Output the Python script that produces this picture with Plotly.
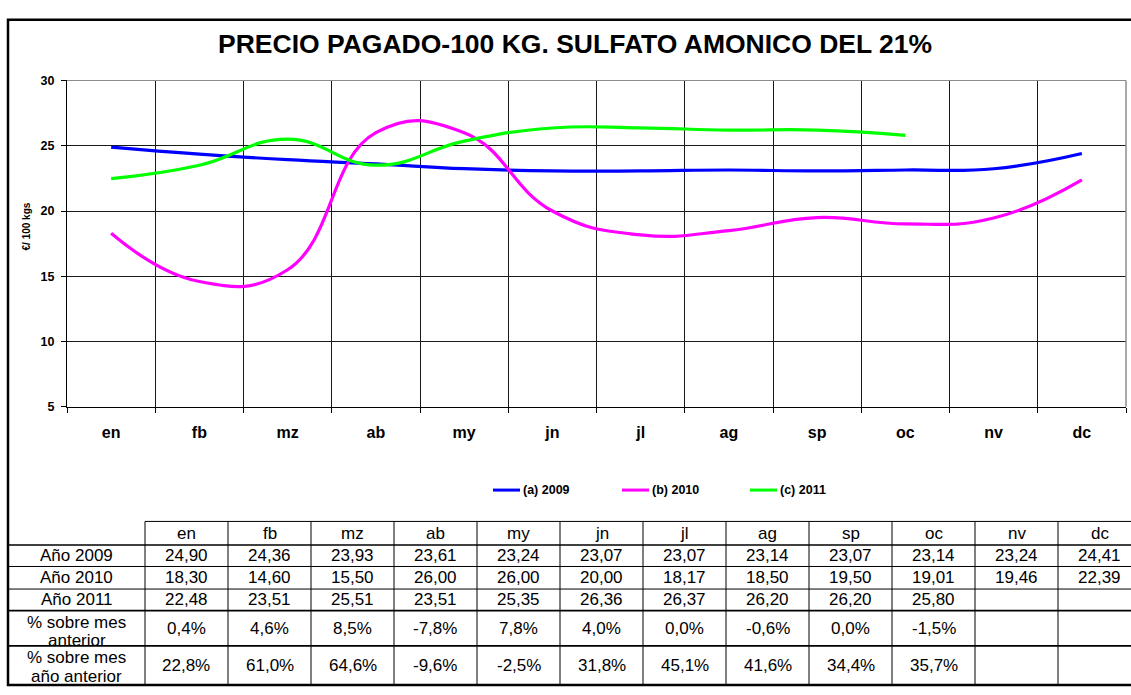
import plotly.graph_objects as go

# ---- data -------------------------------------------------------------
months = ["en", "fb", "mz", "ab", "my", "jn", "jl", "ag", "sp", "oc", "nv", "dc"]
price_2009 = [24.90, 24.36, 23.93, 23.61, 23.24, 23.07, 23.07, 23.14, 23.07, 23.14, 23.24, 24.41]
price_2010 = [18.30, 14.60, 15.50, 26.00, 26.00, 20.00, 18.17, 18.50, 19.50, 19.01, 19.46, 22.39]
price_2011 = [22.48, 23.51, 25.51, 23.51, 25.35, 26.36, 26.37, 26.20, 26.20, 25.80]
pct_prev_month = [0.4, 4.6, 8.5, -7.8, 7.8, 4.0, 0.0, -0.6, 0.0, -1.5]
pct_prev_year = [22.8, 61.0, 64.6, -9.6, -2.5, 31.8, 45.1, 41.6, 34.4, 35.7]

series = [
    ("(a) 2009", price_2009, "#0000FF"),
    ("(b) 2010", price_2010, "#FF00FF"),
    ("(c) 2011", price_2011, "#00FF00"),
]
y_ticks = [5, 10, 15, 20, 25, 30]

# ---- page geometry (pixels) ------------------------------------------
W, H = 1131, 695
FONT = "Liberation Sans, Arial, sans-serif"
PLOT_L, PLOT_R, PLOT_T, PLOT_B = 67, 1126, 75, 408


def px(x):
    return x / W


def py(y):
    return 1 - y / H


fig = go.Figure()

for name, vals, color in series:
    fig.add_trace(go.Scatter(
        x=months[:len(vals)], y=vals, name=name, mode="lines",
        line=dict(color=color, width=3.2, shape="spline", smoothing=1.3),
        showlegend=False, hoverinfo="x+y",
    ))

fig.update_layout(
    width=W, height=H, autosize=False,
    margin=dict(l=0, r=0, t=0, b=0),
    paper_bgcolor="white", plot_bgcolor="white",
    font=dict(family=FONT, color="black"),
    xaxis=dict(
        domain=[px(PLOT_L), px(PLOT_R)],
        type="category", categoryorder="array", categoryarray=months,
        range=[-0.5, 11.5], tickson="boundaries",
        showgrid=True, gridcolor="#1a1a1a", gridwidth=1,
        showline=True, linecolor="black", linewidth=1,
        ticks="outside", ticklen=5, tickcolor="black",
        tickfont=dict(family=FONT, size=16, color="black", weight="bold"),
        ticklabelstandoff=11, zeroline=False, fixedrange=True,
    ),
    yaxis=dict(
        domain=[py(PLOT_B), py(PLOT_T)],
        range=[5, 30], tickvals=y_ticks,
        showgrid=True, gridcolor="#1a1a1a", gridwidth=1,
        showline=True, linecolor="black", linewidth=1,
        ticks="outside", ticklen=5, tickcolor="black",
        tickfont=dict(family=FONT, size=12.5, color="black", weight="bold"),
        ticklabelstandoff=4, zeroline=False, fixedrange=True,
    ),
)

shapes = []
annotations = []

# plot area top and right edges in grey
shapes.append(dict(type="line", xref="paper", yref="paper",
                   x0=px(PLOT_L), x1=px(PLOT_R), y0=py(PLOT_T), y1=py(PLOT_T),
                   line=dict(color="#8c8c8c", width=1.2), layer="above"))
shapes.append(dict(type="line", xref="paper", yref="paper",
                   x0=px(PLOT_R), x1=px(PLOT_R), y0=py(PLOT_T), y1=py(PLOT_B),
                   line=dict(color="#8c8c8c", width=1.5), layer="above"))

# outer frame
shapes.append(dict(type="rect", xref="paper", yref="paper",
                   x0=px(8), x1=px(1140), y0=py(692), y1=py(13),
                   line=dict(color="black", width=2.5), layer="above"))

# title
annotations.append(dict(
    text="PRECIO PAGADO-100 KG. SULFATO AMONICO DEL 21%",
    xref="paper", yref="paper", x=px(575), y=py(38),
    xanchor="center", yanchor="middle", showarrow=False,
    font=dict(family=FONT, size=26.5, color="black", weight="bold"),
))

# y-axis title
annotations.append(dict(
    text="€/ 100 kgs", textangle=-90,
    xref="paper", yref="paper", x=px(26), y=py(224),
    xanchor="center", yanchor="middle", showarrow=False,
    font=dict(family=FONT, size=10, color="black", weight="bold"),
))

# legend
legend_pos = [493, 622, 750]
for (name, vals, color), lx in zip(series, legend_pos):
    shapes.append(dict(type="line", xref="paper", yref="paper",
                       x0=px(lx), x1=px(lx + 27), y0=py(493), y1=py(493),
                       line=dict(color=color, width=3)))
    annotations.append(dict(
        text=name, xref="paper", yref="paper", x=px(lx + 28), y=py(493),
        xanchor="left", yanchor="middle", showarrow=False,
        font=dict(family=FONT, size=12.5, color="black", weight="bold"),
    ))

# ---- data table under the chart --------------------------------------
TAB_L, LAB_R, COL_W = 8, 145, 83
rows_y = [525, 549, 571, 594, 616, 652, 692]
col_x = [LAB_R + COL_W * i for i in range(13)]
TFONT = dict(family=FONT, size=17, color="black")


def fmt_num(v):
    return f"{v:.2f}".replace(".", ",")


def fmt_pct(v):
    return f"{v:.1f}%".replace(".", ",")


# horizontal rules
shapes.append(dict(type="line", xref="paper", yref="paper",
                   x0=px(LAB_R), x1=px(1140), y0=py(rows_y[0]), y1=py(rows_y[0]),
                   line=dict(color="black", width=1)))
for i, yy in enumerate(rows_y[1:-1], start=1):
    wdt = 1.6 if i in (1, 4, 5) else 1
    shapes.append(dict(type="line", xref="paper", yref="paper",
                       x0=px(TAB_L), x1=px(1140), y0=py(yy), y1=py(yy),
                       line=dict(color="black", width=wdt)))
# vertical rules
for xx in col_x:
    shapes.append(dict(type="line", xref="paper", yref="paper",
                       x0=px(xx), x1=px(xx), y0=py(rows_y[0]), y1=py(rows_y[-1]),
                       line=dict(color="black", width=1)))


def cell_text(txt, cx, cy):
    annotations.append(dict(
        text=txt, xref="paper", yref="paper", x=px(cx), y=py(cy),
        xanchor="center", yanchor="middle", showarrow=False, font=TFONT,
    ))


lab_cx = (TAB_L + LAB_R) / 2
row_labels = ["Año 2009", "Año 2010", "Año 2011"]
row_values = [price_2009, price_2010, price_2011]

for j, m in enumerate(months):
    cx = col_x[j] + COL_W / 2
    cell_text(m, cx, (rows_y[0] + rows_y[1]) / 2)
for r, (lab, vals) in enumerate(zip(row_labels, row_values), start=1):
    cy = (rows_y[r] + rows_y[r + 1]) / 2
    cell_text(lab, lab_cx, cy)
    for j, v in enumerate(vals):
        cell_text(fmt_num(v), col_x[j] + COL_W / 2, cy)

for r, (l1, l2, vals) in zip((4, 5), [("% sobre mes", "anterior", pct_prev_month),
                                      ("% sobre mes", "año anterior", pct_prev_year)]):
    top, bot = rows_y[r], rows_y[r + 1]
    cy = (top + bot) / 2
    cell_text(l1, lab_cx, top + 12)
    cell_text(l2, lab_cx, top + 31)
    for j, v in enumerate(vals):
        cell_text(fmt_pct(v), col_x[j] + COL_W / 2, cy)

fig.update_layout(shapes=shapes, annotations=annotations)
fig.write_html("out.html")
